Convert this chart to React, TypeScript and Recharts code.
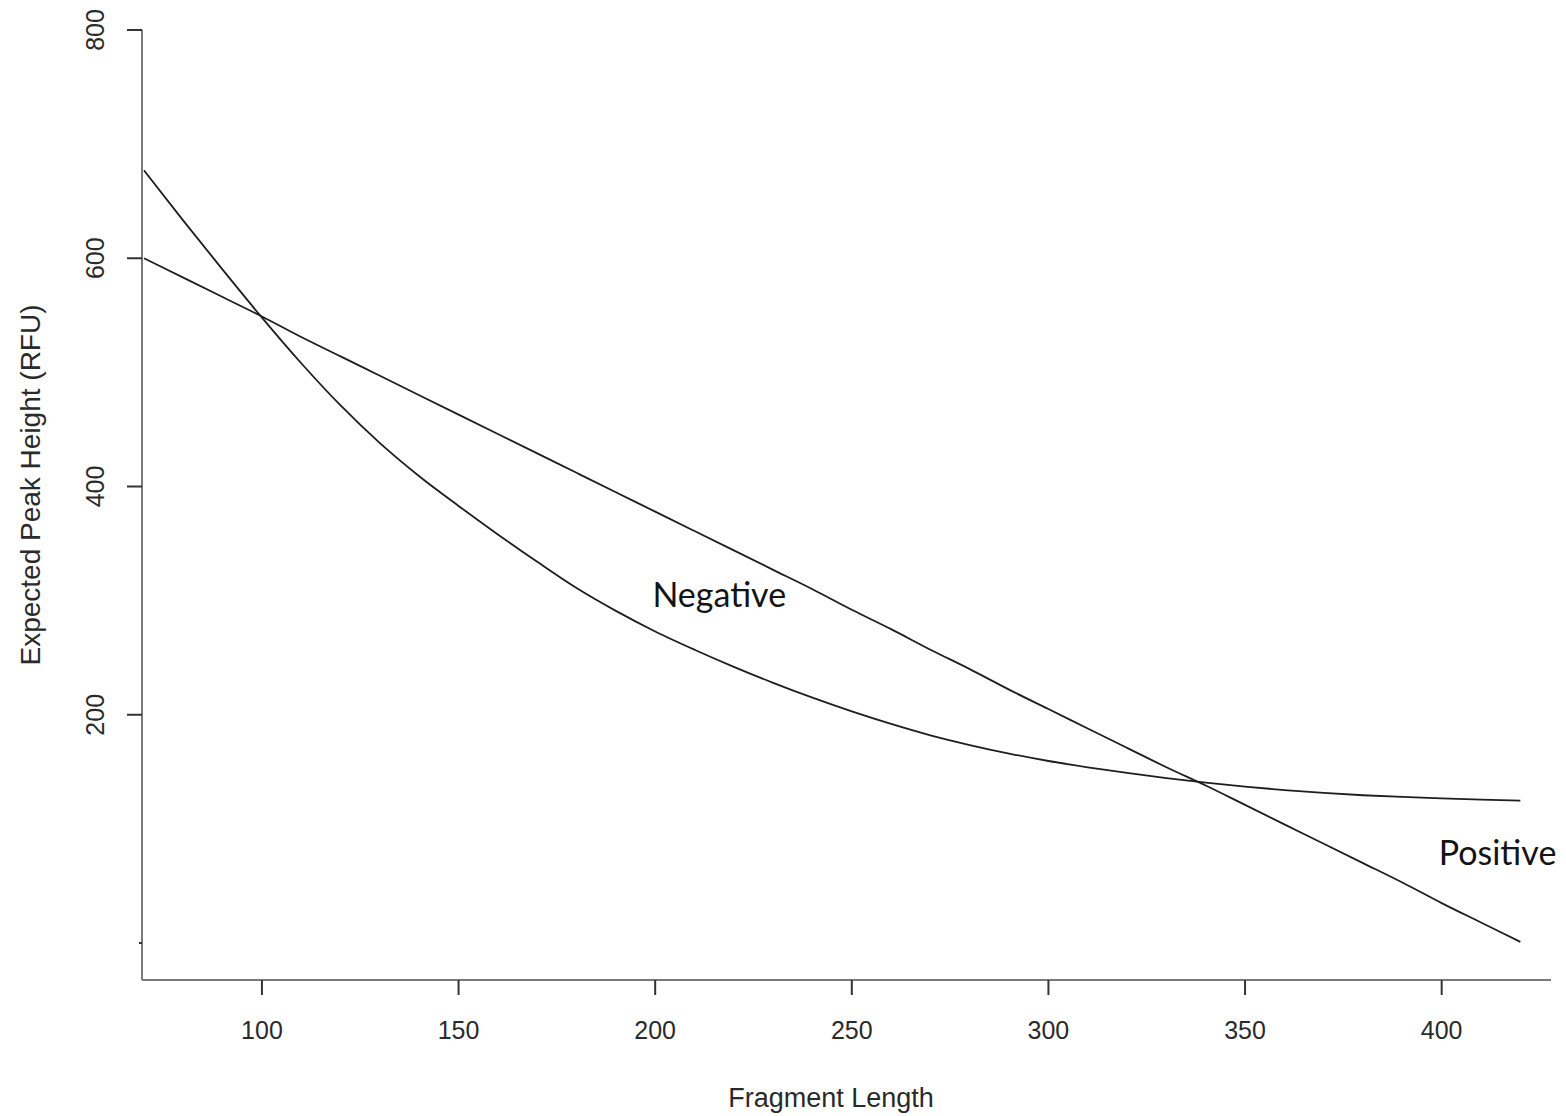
import { LineChart, Line, XAxis, YAxis, ReferenceDot, Label } from "recharts";

const fragmentLengths = [
  70, 80, 90, 100, 110, 120, 130, 140, 150, 160, 170, 180, 190, 200, 210, 220, 230, 240,
  250, 260, 270, 280, 290, 300, 310, 320, 330, 340, 350, 360, 370, 380, 390, 400, 410, 420,
];

// nearly straight curve
const negativeHeights = [
  600, 583, 566, 549, 531, 514, 497, 480, 463, 446, 429, 412, 395, 378, 361, 344, 327, 310,
  292, 275, 257, 240, 222, 205, 188, 171, 154, 138, 121, 104, 87, 70, 53, 35, 18, 1,
];

// convex curve that flattens out
const positiveHeights = [
  677, 633, 590, 548, 508, 471, 438, 409, 383, 358, 334, 311, 291, 273, 257, 242, 228, 215,
  203, 192, 182, 173.5, 166, 159.5, 154, 149, 144.5, 140.5, 137, 134, 131.5, 129.5, 128, 126.8,
  125.7, 124.8,
];

const xTicks = [100, 150, 200, 250, 300, 350, 400];
const yTicks = [0, 200, 400, 600, 800];

const curveLabels = [
  { text: "Negative", x: 216.3, y: 305 },
  { text: "Positive", x: 414.2, y: 79 },
];

const data = fragmentLengths.map((len, i) => ({
  len,
  negative: negativeHeights[i],
  positive: positiveHeights[i],
}));

const FONT = "'Liberation Sans', Arial, sans-serif";
const AXIS_GREY = "#7a7a7a";
const INK = "#1e1e1e";

function XTick(props: any) {
  const { x, y, payload } = props;
  return (
    <g>
      <line x1={x} x2={x} y1={y} y2={y + 15} stroke="#333" strokeWidth={2} />
      <text
        x={x}
        y={y + 50}
        textAnchor="middle"
        dominantBaseline="central"
        fontFamily={FONT}
        fontSize={25}
        fill="#2a2a2a"
      >
        {payload.value}
      </text>
    </g>
  );
}

function YTick(props: any) {
  const { x, y, payload } = props;
  if (payload.value === 0) {
    return <line x1={x - 3} x2={x} y1={y} y2={y} stroke="#333" strokeWidth={2} />;
  }
  return (
    <g>
      <line x1={x - 15} x2={x} y1={y} y2={y} stroke="#333" strokeWidth={2} />
      <text
        x={95}
        y={y}
        transform={`rotate(-90, 95, ${y})`}
        textAnchor="middle"
        dominantBaseline="central"
        fontFamily={FONT}
        fontSize={25}
        fill="#2a2a2a"
      >
        {payload.value}
      </text>
    </g>
  );
}

export default function App() {
  return (
    <div style={{ position: "absolute", left: 0, top: 0, background: "#fff" }}>
      <LineChart
        width={1566}
        height={1116}
        data={data}
        margin={{ top: 30, right: 15, bottom: 0, left: 0 }}
      >
        <XAxis
          dataKey="len"
          type="number"
          domain={[69.5, 427.8]}
          ticks={xTicks}
          allowDataOverflow
          height={136}
          tickSize={0}
          tickMargin={0}
          tickLine={false}
          tick={<XTick />}
          axisLine={{ stroke: AXIS_GREY, strokeWidth: 2 }}
        >
          <Label
            content={() => (
              <text
                x={831}
                y={1098}
                textAnchor="middle"
                dominantBaseline="central"
                fontFamily={FONT}
                fontSize={27}
                fill="#2a2a2a"
              >
                Fragment Length
              </text>
            )}
          />
        </XAxis>
        <YAxis
          type="number"
          domain={[-32.4, 800]}
          ticks={yTicks}
          allowDataOverflow
          width={142}
          tickSize={0}
          tickMargin={0}
          tickLine={false}
          tick={<YTick />}
          axisLine={{ stroke: AXIS_GREY, strokeWidth: 2 }}
        >
          <Label
            content={() => (
              <text
                x={30}
                y={485}
                transform="rotate(-90, 30, 485)"
                textAnchor="middle"
                dominantBaseline="central"
                fontFamily={FONT}
                fontSize={28}
                fill="#2a2a2a"
              >
                Expected Peak Height (RFU)
              </text>
            )}
          />
        </YAxis>
        <Line
          type="monotone"
          dataKey="negative"
          stroke={INK}
          strokeWidth={1.8}
          dot={false}
          isAnimationActive={false}
        />
        <Line
          type="monotone"
          dataKey="positive"
          stroke={INK}
          strokeWidth={1.8}
          dot={false}
          isAnimationActive={false}
        />
        {curveLabels.map((l) => (
          <ReferenceDot
            key={l.text}
            x={l.x}
            y={l.y}
            r={0}
            fill="none"
            stroke="none"
            ifOverflow="visible"
            label={{
              value: l.text,
              position: "center",
              fontFamily: "Lato, 'Open Sans', sans-serif",
              fontSize: 34,
              fill: "#141414",
            }}
          />
        ))}
      </LineChart>
    </div>
  );
}
